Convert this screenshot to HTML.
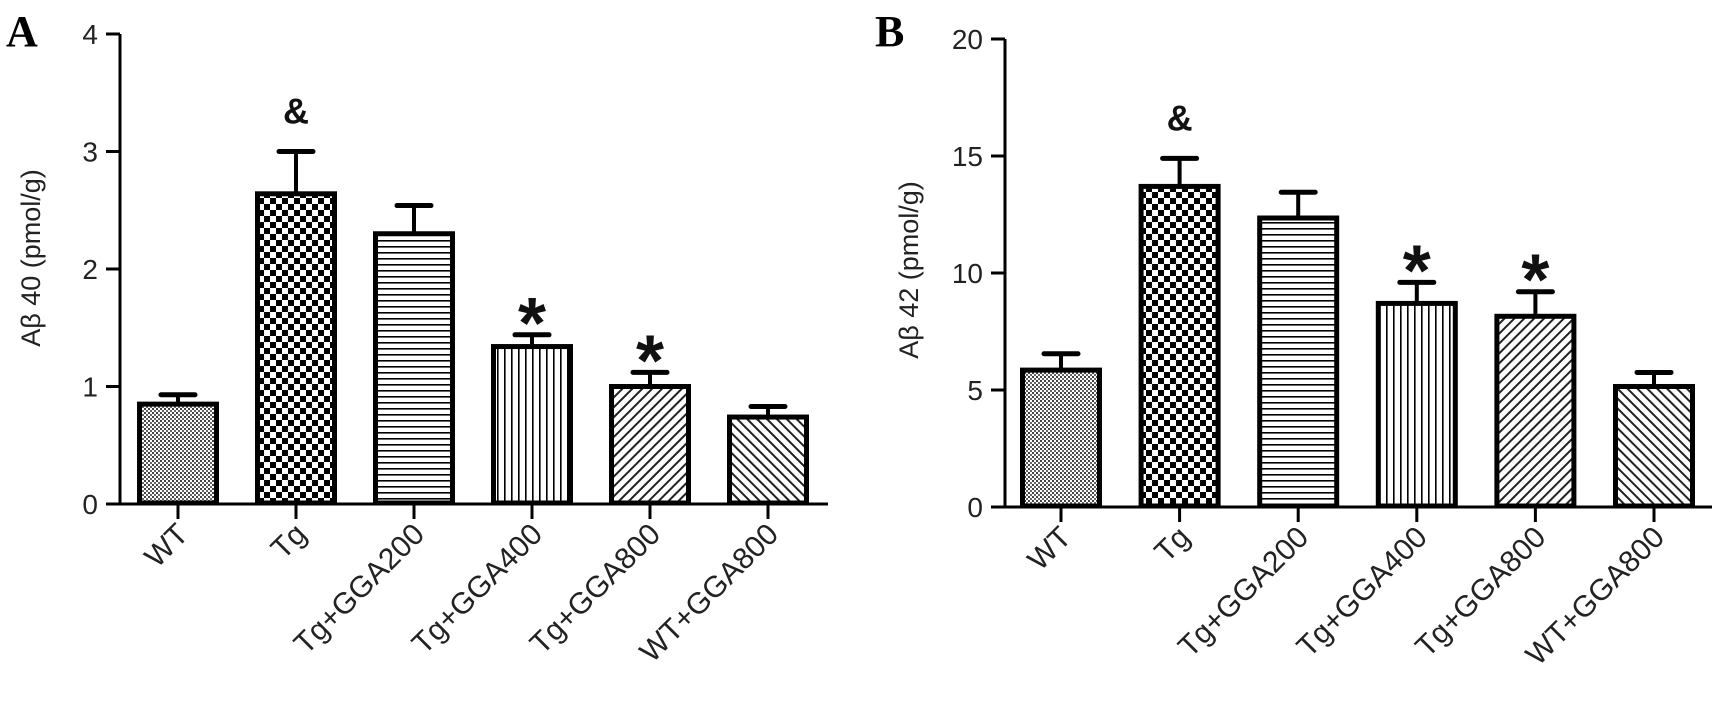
<!DOCTYPE html>
<html><head><meta charset="utf-8"><style>
html,body{margin:0;padding:0;background:#fff;}
svg{display:block;font-family:"Liberation Sans",Arial,sans-serif;}
</style></head><body>
<svg id="chart" width="1729" height="704" viewBox="0 0 1729 704">
<defs>
<pattern id="p-dots" width="4" height="4" patternUnits="userSpaceOnUse"><rect width="4" height="4" fill="#fff"/><rect width="2" height="2" fill="#444"/><rect x="2" y="2" width="2" height="2" fill="#666"/></pattern>
<pattern id="p-check" width="12" height="12" patternUnits="userSpaceOnUse"><rect width="12" height="12" fill="#fff"/><rect width="6" height="6" fill="#000"/><rect x="6" y="6" width="6" height="6" fill="#000"/></pattern>
<pattern id="p-hor" width="6" height="6" patternUnits="userSpaceOnUse"><rect width="6" height="6" fill="#fff"/><rect y="0" width="6" height="1.6" fill="#000"/></pattern>
<pattern id="p-ver" width="7" height="7" patternUnits="userSpaceOnUse"><rect width="7" height="7" fill="#fff"/><rect x="0" width="1.6" height="7" fill="#000"/></pattern>
<pattern id="p-diag1" width="7" height="7" patternUnits="userSpaceOnUse" patternTransform="rotate(45)"><rect width="7" height="7" fill="#fff"/><rect width="2" height="7" fill="#222"/></pattern>
<pattern id="p-diag2" width="7" height="7" patternUnits="userSpaceOnUse" patternTransform="rotate(-45)"><rect width="7" height="7" fill="#fff"/><rect width="2" height="7" fill="#222"/></pattern>
</defs>
<text x="6" y="46" font-family="Liberation Serif,serif" font-weight="bold" font-size="44">A</text>
<text x="875" y="46" font-family="Liberation Serif,serif" font-weight="bold" font-size="44">B</text>
<g id="gA"></g>
<g id="gB"></g>
</svg>
<script>
const categories = ["WT","Tg","Tg+GGA200","Tg+GGA400","Tg+GGA800","WT+GGA800"];
const patterns = ["p-dots","p-check","p-hor","p-ver","p-diag1","p-diag2"];
const valuesA = [0.85, 2.64, 2.30, 1.34, 1.00, 0.74];
const errorsA = [0.08, 0.36, 0.24, 0.10, 0.12, 0.09];
const marksA = ["", "&", "", "*", "*", ""];
const ticksA = [0,1,2,3,4];
const valuesB = [5.85, 13.7, 12.35, 8.7, 8.15, 5.15];
const errorsB = [0.7, 1.2, 1.1, 0.9, 1.05, 0.6];
const marksB = ["", "&", "", "*", "*", ""];
const ticksB = [0,5,10,15,20];
const NS="http://www.w3.org/2000/svg";
function mk(parent, tag, attrs){const e=document.createElementNS(NS,tag);for(const k in attrs)e.setAttribute(k,attrs[k]);parent.appendChild(e);return e;}

function drawPanel(g, cfg, values, errors, marks, ticks){
  const ymax = ticks[ticks.length-1];
  const y = v => cfg.y0 - (v/ymax)*(cfg.y0-cfg.yTop);
  const x = i => cfg.x0 + i*cfg.step;
  const ya = mk(g,'line',{x1:cfg.ax,y1:y(ymax),x2:cfg.ax,y2:cfg.y0,stroke:'#000','stroke-width':3});
  
  
  ticks.forEach(t=>{
    const tl = mk(g,'line',{x1:cfg.ax-14,y1:y(t),x2:cfg.ax,y2:y(t),stroke:'#000','stroke-width':3});
    
    
    const tx = mk(g,'text',{x:cfg.ax-22,y:y(t)+10,'text-anchor':'end','font-size':28,fill:'#222'});
    tx.textContent=t;
    
    
  });
  const xa = mk(g,'line',{x1:cfg.ax-14,y1:cfg.y0,x2:cfg.xEnd,y2:cfg.y0,stroke:'#000','stroke-width':3});
  
  
  const tt = mk(g,'text',{x:0,y:0,'text-anchor':'middle','font-size':27,fill:'#222',transform:`translate(${cfg.titleX},${cfg.titleY}) rotate(-90)`});
  tt.textContent=cfg.title;
  
  
  values.forEach((v,i)=>{
    const cx=x(i), w=cfg.bw;
    const top=y(v), etop=y(v+errors[i]);
    const el = mk(g,'line',{x1:cx,y1:etop,x2:cx,y2:top,stroke:'#000','stroke-width':4});
    
    
    const cap = mk(g,'line',{x1:cx-17,y1:etop,x2:cx+17,y2:etop,stroke:'#000','stroke-width':5,'stroke-linecap':'round'});
    
    
    const r = mk(g,'rect',{x:cx-w/2+2.5,y:top,width:w-5,height:cfg.y0-top-1,fill:`url(#${patterns[i]})`,stroke:'#000','stroke-width':5});
    
    
    const tk = mk(g,'line',{x1:cx,y1:cfg.y0,x2:cx,y2:cfg.y0+15,stroke:'#000','stroke-width':3});
    
    
    const lb = mk(g,'text',{x:0,y:0,'text-anchor':'end','font-size':30,fill:'#222',transform:`translate(${cx+12},${cfg.y0+32}) rotate(-45)`});
    lb.textContent=categories[i];
    
    
    if(marks[i]){
      const star = marks[i]==='*';
      const m = mk(g,'text',{x:cx,y:star?etop+13:etop-28,'text-anchor':'middle','font-size':star?72:36,'font-weight':'bold',fill:'#111'});
      m.textContent=marks[i];
      
      
    }
  });
}
drawPanel(document.getElementById('gA'),{ax:120,y0:504,yTop:34,x0:178,step:118,bw:82,xEnd:828,title:'Aβ 40 (pmol/g)',titleX:40,titleY:258},valuesA,errorsA,marksA,ticksA);
drawPanel(document.getElementById('gB'),{ax:1005,y0:507,yTop:39,x0:1061,step:118.6,bw:82,xEnd:1712,title:'Aβ 42 (pmol/g)',titleX:918,titleY:270},valuesB,errorsB,marksB,ticksB);
</script>
</body></html>
